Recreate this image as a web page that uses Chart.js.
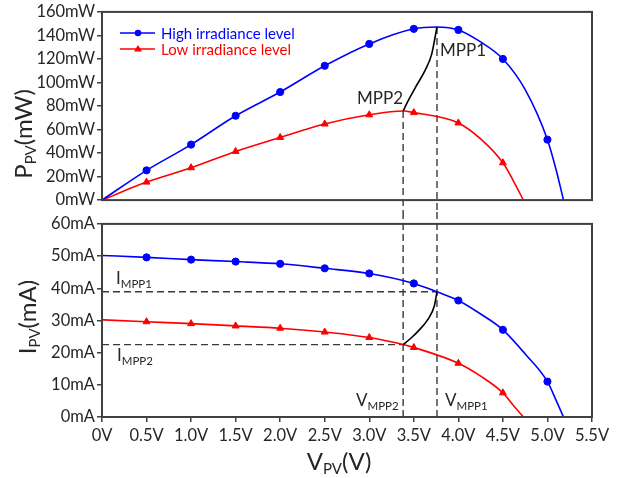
<!DOCTYPE html>
<html><head><meta charset="utf-8">
<script src="https://cdn.jsdelivr.net/npm/chart.js@4/dist/chart.umd.min.js"></script>
<style>
html,body{margin:0;padding:0;background:#fff;}
#wrap{position:relative;width:630px;height:478px;overflow:hidden;}
#c1wrap{position:absolute;left:0;top:0;width:630px;height:212px;}
#c2wrap{position:absolute;left:0;top:212px;width:630px;height:266px;}
</style></head><body>
<div id="wrap"><div id="c1wrap"><canvas id="c1"></canvas></div><div id="c2wrap"><canvas id="c2"></canvas></div></div>
<script>
// ---------------- data ----------------
const xTicks = [0, 0.5, 1.0, 1.5, 2.0, 2.5, 3.0, 3.5, 4.0, 4.5, 5.0, 5.5];
const powerTicks = [0, 20, 40, 60, 80, 100, 120, 140, 160];
const currentTicks = [0, 10, 20, 30, 40, 50, 60];

const highMarkerV = [0.5, 1.0, 1.5, 2.0, 2.5, 3.0, 3.5, 4.0, 4.5, 5.0];
const highMarkerP = [25.3, 47.2, 71.7, 91.9, 114.2, 132.8, 145.6, 144.7, 120, 51.4];
const highMarkerI = [49.6, 48.9, 48.3, 47.6, 46.2, 44.6, 41.5, 36.2, 27.1, 11.0];

const lowMarkerV = [0.5, 1.0, 1.5, 2.0, 2.5, 3.0, 3.5, 4.0, 4.5];
const lowMarkerP = [15.3, 27.5, 41.4, 53.3, 64.7, 72.5, 74.4, 65.6, 31.7];
const lowMarkerI = [29.6, 29.0, 28.3, 27.6, 26.4, 24.7, 21.6, 16.7, 7.5];

const highCurveV = [0, 0.5, 1.0, 1.5, 2.0, 2.5, 3.0, 3.5, 3.76, 4.0, 4.25, 4.5, 4.75, 5.0, 5.1, 5.18];
const highCurveP = [0, 25.3, 47.2, 71.7, 91.9, 114.2, 132.8, 145.6, 147.2, 144.7, 134.5, 120, 94, 51.4, 25, 0];
const highCurveI = [50.2, 49.6, 48.9, 48.3, 47.6, 46.2, 44.6, 41.5, 38.9, 36.2, 32, 27.1, 19.6, 11.0, 5.0, 0];

const lowCurveV = [0, 0.5, 1.0, 1.5, 2.0, 2.5, 3.0, 3.38, 3.5, 4.0, 4.25, 4.5, 4.62, 4.73];
const lowCurveP = [0, 15.3, 27.5, 41.4, 53.3, 64.7, 72.5, 75.8, 74.4, 65.6, 52, 31.7, 16, 0];
const lowCurveI = [30.2, 29.6, 29.0, 28.3, 27.6, 26.4, 24.7, 22.5, 21.6, 16.7, 12.7, 7.5, 3.5, 0];

const mppV = [3.76, 3.38];
const mppP = [147.2, 75.8];
const mppI = [38.9, 22.5];

const mppPathPV = [3.38, 3.44, 3.52, 3.625, 3.70, 3.737, 3.76];
const mppPathP = [75.8, 85, 96.1, 110, 123.9, 137.8, 147.2];
const mppPathIV = [3.38, 3.476, 3.57, 3.66, 3.73, 3.76];
const mppPathI = [22.5, 24.7, 27.3, 30.4, 34.5, 38.9];

const seriesNames = ['High irradiance level', 'Low irradiance level'];

// ---------------- helpers ----------------
const FONT = 'Lato, "Open Sans", sans-serif';
const BLUE = '#0000ff', RED = '#ff0000', AXIS = '#404040', TXT = '#262626';
const pts = (xs, ys) => xs.map((x, i) => ({x, y: ys[i]}));

function drawParts(ctx, x, y, parts, align) {
  let w = 0;
  parts.forEach(p => { ctx.font = p[1] + 'px ' + FONT; w += ctx.measureText(p[0]).width; });
  let cx = align === 'center' ? x - w / 2 : (align === 'right' ? x - w : x);
  ctx.textAlign = 'left';
  ctx.textBaseline = 'alphabetic';
  parts.forEach(p => {
    ctx.font = p[1] + 'px ' + FONT;
    ctx.fillText(p[0], cx, y + p[2]);
    cx += ctx.measureText(p[0]).width;
  });
}

function frame(chart) {
  const {ctx, chartArea: a} = chart;
  ctx.save();
  ctx.strokeStyle = AXIS; ctx.lineWidth = 2;
  ctx.strokeRect(a.left, a.top, a.right - a.left, a.bottom - a.top);
  ctx.restore();
}

function dashed(ctx, x1, y1, x2, y2) {
  ctx.save();
  ctx.strokeStyle = '#3a3a3a'; ctx.lineWidth = 1.4; ctx.setLineDash([7, 4]);
  ctx.beginPath(); ctx.moveTo(x1, y1); ctx.lineTo(x2, y2); ctx.stroke();
  ctx.restore();
}

function curveDs(data, color) {
  return {data, borderColor: color, borderWidth: 1.6, pointRadius: 0, showLine: true,
          cubicInterpolationMode: 'monotone', fill: false, order: 2};
}
function markerDs(data, color, style) {
  return {data, borderColor: color, backgroundColor: color, pointStyle: style, borderWidth: 1,
          pointRadius: style === 'triangle' ? 4 : 3.6, showLine: false, order: 1};
}
function pathDs(data) {
  return {data, borderColor: '#000', borderWidth: 1.6, pointRadius: 0, showLine: true,
          cubicInterpolationMode: 'monotone', fill: false, order: 0};
}

const xScaleBase = {
  type: 'linear', min: 0, max: 5.5,
  afterBuildTicks: s => { s.ticks = xTicks.map(v => ({value: v})); },
};

// ---------------- top chart (P-V) ----------------
const topPlugin = {
  id: 'topDeco',
  beforeDatasetsDraw(chart) {
    const {ctx, scales: {x, y}} = chart;
    mppV.forEach((v, i) => dashed(ctx, x.getPixelForValue(v), y.getPixelForValue(mppP[i]), x.getPixelForValue(v), chart.height));
  },
  afterDraw(chart) {
    const {ctx} = chart;
    frame(chart);
    ctx.save();
    const lg = [[seriesNames[0], BLUE, 'circle', 33], [seriesNames[1], RED, 'triangle', 49]];
    lg.forEach(([t, c, s, yy]) => {
      ctx.strokeStyle = c; ctx.lineWidth = 1.6;
      ctx.beginPath(); ctx.moveTo(120, yy); ctx.lineTo(155, yy); ctx.stroke();
      ctx.fillStyle = c;
      ctx.beginPath();
      if (s === 'circle') { ctx.arc(138, yy, 3.3, 0, Math.PI * 2); }
      else { ctx.moveTo(138, yy - 4); ctx.lineTo(142, yy + 2.5); ctx.lineTo(134, yy + 2.5); ctx.closePath(); }
      ctx.fill();
      drawParts(ctx, 161, yy + 5.5, [[t, 15, 0]], 'left');
    });
    ctx.fillStyle = TXT;
    drawParts(ctx, 440, 56, [['MPP1', 17, 0]], 'left');
    drawParts(ctx, 403, 104, [['MPP2', 17, 0]], 'right');
    ctx.translate(32, 134); ctx.rotate(-Math.PI / 2);
    drawParts(ctx, 0, 0, [['P', 24, 0], ['PV', 15, 4], ['(mW)', 24, 0]], 'center');
    ctx.restore();
  }
};

new Chart(document.getElementById('c1'), {
  type: 'scatter',
  data: {datasets: [
    pathDs(pts(mppPathPV, mppPathP)),
    curveDs(pts(highCurveV, highCurveP), BLUE),
    curveDs(pts(lowCurveV, lowCurveP), RED),
    markerDs(pts(highMarkerV, highMarkerP), BLUE, 'circle'),
    markerDs(pts(lowMarkerV, lowMarkerP), RED, 'triangle'),
  ]},
  options: {
    responsive: true, maintainAspectRatio: false, animation: false,
    layout: {padding: {left: 0, right: 38, top: 10, bottom: 0}},
    plugins: {legend: {display: false}, tooltip: {enabled: false}},
    scales: {
      x: Object.assign({}, xScaleBase, {
        ticks: {display: false}, grid: {display: false}, border: {display: false},
        afterFit: s => { s.height = 10; }
      }),
      y: {
        min: 0, max: 160,
        afterBuildTicks: s => { s.ticks = powerTicks.map(v => ({value: v})); },
        afterFit: s => { s.width = 102; },
        ticks: {callback: v => v + 'mW', color: TXT, font: {family: FONT, size: 16.5}, padding: 2},
        grid: {display: true, drawOnChartArea: false, drawTicks: true, tickLength: 5, color: AXIS, lineWidth: 1.5},
        border: {display: false}
      }
    }
  },
  plugins: [topPlugin]
});

// ---------------- bottom chart (I-V) ----------------
const botPlugin = {
  id: 'botDeco',
  beforeDatasetsDraw(chart) {
    const {ctx, chartArea: a, scales: {x, y}} = chart;
    mppV.forEach((v, i) => {
      dashed(ctx, x.getPixelForValue(v), 0, x.getPixelForValue(v), a.bottom);
      dashed(ctx, a.left, y.getPixelForValue(mppI[i]), x.getPixelForValue(v), y.getPixelForValue(mppI[i]));
    });
  },
  afterDraw(chart) {
    const {ctx} = chart;
    frame(chart);
    ctx.save();
    ctx.fillStyle = TXT;
    drawParts(ctx, 116, 72, [['I', 17, 0], ['MPP1', 11.5, 4]], 'left');
    drawParts(ctx, 117, 149, [['I', 17, 0], ['MPP2', 11.5, 4]], 'left');
    drawParts(ctx, 356, 194, [['V', 17, 0], ['MPP2', 11.5, 4]], 'left');
    drawParts(ctx, 445, 194, [['V', 17, 0], ['MPP1', 11.5, 4]], 'left');
    drawParts(ctx, 339, 258, [['V', 24, 0], ['PV', 15, 4], ['(V)', 24, 0]], 'center');
    ctx.translate(36, 105); ctx.rotate(-Math.PI / 2);
    drawParts(ctx, 0, 0, [['I', 24, 0], ['PV', 15, 4], ['(mA)', 24, 0]], 'center');
    ctx.restore();
  }
};

new Chart(document.getElementById('c2'), {
  type: 'scatter',
  data: {datasets: [
    pathDs(pts(mppPathIV, mppPathI)),
    curveDs(pts(highCurveV, highCurveI), BLUE),
    curveDs(pts(lowCurveV, lowCurveI), RED),
    markerDs(pts(highMarkerV, highMarkerI), BLUE, 'circle'),
    markerDs(pts(lowMarkerV, lowMarkerI), RED, 'triangle'),
  ]},
  options: {
    responsive: true, maintainAspectRatio: false, animation: false,
    layout: {padding: {left: 0, right: 38, top: 10, bottom: 0}},
    plugins: {legend: {display: false}, tooltip: {enabled: false}},
    scales: {
      x: Object.assign({}, xScaleBase, {
        ticks: {callback: v => v === 0 ? '0V' : v.toFixed(1) + 'V', color: TXT,
                font: {family: FONT, size: 16.5}, padding: 4, autoSkip: false, maxRotation: 0},
        grid: {display: true, drawOnChartArea: false, drawTicks: true, tickLength: 5, color: AXIS, lineWidth: 1.5},
        border: {display: false},
        afterFit: s => { s.height = 61; }
      }),
      y: {
        min: 0, max: 60,
        afterBuildTicks: s => { s.ticks = currentTicks.map(v => ({value: v})); },
        afterFit: s => { s.width = 102; },
        ticks: {callback: v => v + 'mA', color: TXT, font: {family: FONT, size: 16.5}, padding: 2},
        grid: {display: true, drawOnChartArea: false, drawTicks: true, tickLength: 5, color: AXIS, lineWidth: 1.5},
        border: {display: false}
      }
    }
  },
  plugins: [botPlugin]
});
</script>
</body></html>
